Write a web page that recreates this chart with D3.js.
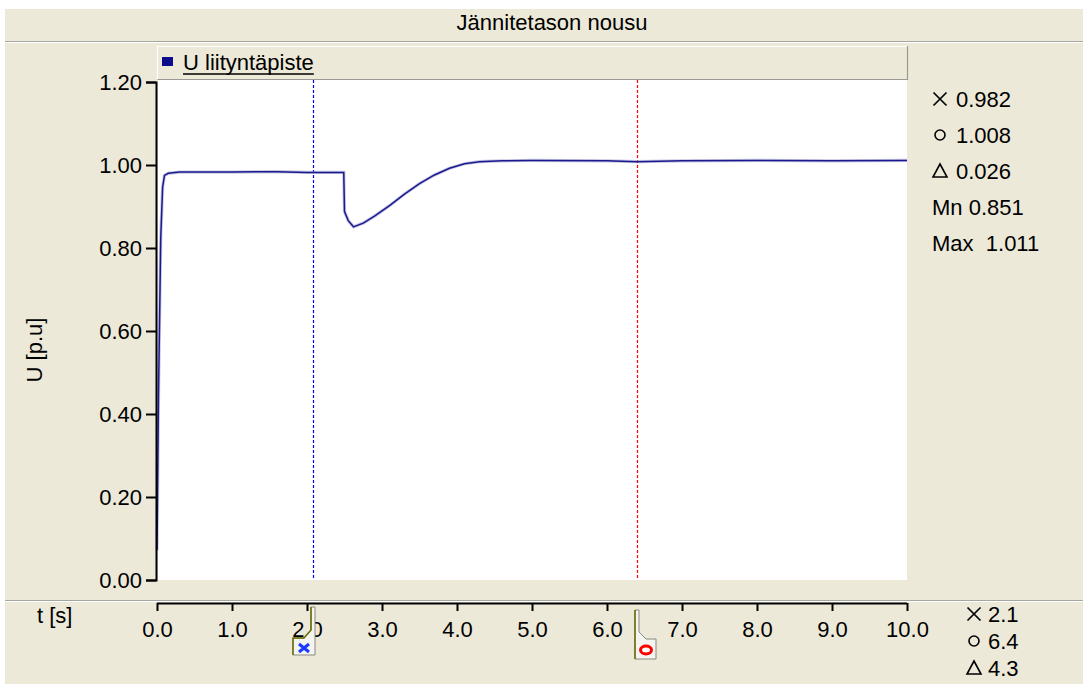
<!DOCTYPE html>
<html>
<head>
<meta charset="utf-8">
<script src="https://cdn.jsdelivr.net/npm/d3@7"></script>
<style>
  html, body { margin: 0; padding: 0; background: #ffffff; }
  svg { display: block; }
  text { font-family: "Liberation Sans", Arial, sans-serif; fill: #000; }
</style>
</head>
<body>
<svg id="chart" width="1083" height="684"></svg>
<script>
// ---------- data ----------
const chartTitle = "Jännitetason nousu";
const seriesName = "U liityntäpiste";
const yAxisTitle = "U [p.u]";
const xAxisTitle = "t [s]";

const timeS = [0.00, 0.02, 0.05, 0.075, 0.10, 0.15, 0.30, 1.00, 1.60, 2.00, 2.49, 2.50, 2.55, 2.62, 2.75, 2.90, 3.10, 3.30, 3.50, 3.70, 3.90, 4.10, 4.30, 4.60, 5.00, 6.00, 6.40, 7.00, 8.00, 9.00, 10.00];
const voltage = [0.072, 0.446, 0.826, 0.947, 0.975, 0.980, 0.983, 0.983, 0.984, 0.982, 0.982, 0.888, 0.866, 0.851, 0.860, 0.877, 0.902, 0.930, 0.955, 0.976, 0.992, 1.003, 1.008, 1.010, 1.011, 1.010, 1.008, 1.010, 1.011, 1.010, 1.011];

const xTicks = [0, 1, 2, 3, 4, 5, 6, 7, 8, 9, 10];
const yTicks = [0, 0.2, 0.4, 0.6, 0.8, 1.0, 1.2];

const cursorTimes = [2.08, 6.4];          // x cursor, o cursor
const cursorValues = [0.982, 1.008];
const statMin = 0.851;
const statMax = 1.011;

// ---------- layout ----------
const svg = d3.select("#chart");
const W = 1083, H = 684;
const bg = "#ECE9D8";
const FS = "22px";
const x = d3.scaleLinear().domain([0, 10]).range([157, 907]);
const y = d3.scaleLinear().domain([0, 1.2]).range([580, 82]);

// background
svg.append("rect").attr("x", 0).attr("y", 0).attr("width", W).attr("height", H).attr("fill", "#fff");
svg.append("rect").attr("x", 5).attr("y", 9).attr("width", W - 5).attr("height", H - 9).attr("fill", bg);

// separators
[[41, "#a6a6a0"], [42, "#ffffff"], [600, "#a6a6a0"], [601, "#ffffff"]].forEach(([yy, c]) => {
  svg.append("line").attr("x1", 5).attr("x2", W).attr("y1", yy + 0.5).attr("y2", yy + 0.5)
    .attr("stroke", c).attr("stroke-width", 1.2);
});

// title
svg.append("text").attr("x", 552).attr("y", 30).attr("text-anchor", "middle")
  .style("font-size", FS).text(chartTitle);

// plot area
svg.append("rect").attr("x", x(0) + 1).attr("y", 79).attr("width", x(10) - x(0) - 1).attr("height", 580 - 79)
  .attr("fill", "#ffffff");

// legend box
const lg = svg.append("g");
lg.append("rect").attr("x", 157).attr("y", 46).attr("width", 750).attr("height", 33).attr("fill", bg);
lg.append("path").attr("d", "M157.5,79 V46.5 H907").attr("fill", "none").attr("stroke", "#ffffff").attr("stroke-width", 1.2);
lg.append("path").attr("d", "M157.5,79.5 H907.5 V46").attr("fill", "none").attr("stroke", "#9a9a94").attr("stroke-width", 1.2);
lg.append("rect").attr("x", 162).attr("y", 57).attr("width", 11).attr("height", 9).attr("fill", "#0c0c8c");
const lt = lg.append("text").attr("x", 183).attr("y", 70).style("font-size", FS).text(seriesName);
const ltw = lt.node().getComputedTextLength();
lg.append("line").attr("x1", 183).attr("x2", 183 + ltw).attr("y1", 74).attr("y2", 74)
  .attr("stroke", "#000").attr("stroke-width", 1.5);

// cursor lines
const cursorColors = ["#0000ff", "#ff0000"];
cursorTimes.forEach((t, i) => {
  svg.append("line").attr("x1", Math.round(x(t)) + 0.5).attr("x2", Math.round(x(t)) + 0.5)
    .attr("y1", 80).attr("y2", 580)
    .attr("stroke", cursorColors[i]).attr("stroke-width", 1.2).attr("stroke-dasharray", "3,2");
});

// data line
const line = d3.line().x((d, i) => x(timeS[i])).y(d => y(d));
svg.append("path").datum(voltage).attr("d", line).attr("fill", "none")
  .attr("stroke", "#8c8cc8").attr("stroke-width", 3.2).attr("stroke-opacity", 0.5);
svg.append("path").datum(voltage).attr("d", line).attr("fill", "none")
  .attr("stroke", "#1a1a8e").attr("stroke-width", 1.5);

// y axis
const yAxis = d3.axisLeft(y).tickValues(yTicks).tickFormat(d3.format(".2f")).tickSize(10).tickPadding(4);
const ya = svg.append("g").attr("transform", "translate(156,0)").call(yAxis);
ya.select(".domain").attr("d", "M-10,82.5 H0.5 V580.5 H-10").attr("stroke", "#000").attr("stroke-width", 2);
ya.selectAll(".tick line").attr("stroke", "#000").attr("stroke-width", 2);
ya.selectAll(".tick text").style("font-size", FS).attr("font-family", "Liberation Sans, Arial, sans-serif")
  .attr("fill", "#000").attr("dy", "0.36em");

svg.append("text").attr("transform", "translate(42,350) rotate(-90)").attr("text-anchor", "middle")
  .style("font-size", FS).text(yAxisTitle);

// x axis
const xAxis = d3.axisBottom(x).tickValues(xTicks).tickFormat(d3.format(".1f")).tickSize(8).tickPadding(10);
const xa = svg.append("g").attr("transform", "translate(0,603)").call(xAxis);
xa.select(".domain").attr("d", "M157,0.5 H907").attr("stroke", "#000").attr("stroke-width", 2);
xa.selectAll(".tick line").attr("stroke", "#000").attr("stroke-width", 2);
xa.selectAll(".tick text").style("font-size", FS).attr("font-family", "Liberation Sans, Arial, sans-serif")
  .attr("fill", "#000");

svg.append("text").attr("x", 37).attr("y", 623).style("font-size", FS).text(xAxisTitle);

// cursor flags on x axis
function flag(t, dir, color, kind) {
  const cx = Math.round(x(t));
  const g = svg.append("g");
  let d;
  if (dir < 0) {
    d = `M${cx - 2},607 H${cx + 2} V655 H${cx - 20} V638 H${cx - 9} L${cx - 2},630 Z`;
  } else {
    d = `M${cx - 2},610 H${cx + 2} V632 L${cx + 9},639 H${cx + 19} V659 H${cx - 2} Z`;
  }
  g.append("path").attr("d", d).attr("fill", "#f4f4f0").attr("stroke", "#8a8a80").attr("stroke-width", 1);
  const hd = dir < 0
    ? `M${cx - 2},607 V630 L${cx - 9},638 H${cx - 20} V655`
    : `M${cx - 2},610 V659`;
  g.append("path").attr("d", hd).attr("fill", "none").attr("stroke", "#6b6b00").attr("stroke-width", 1.5);
  if (kind === "x") {
    const bx = cx - 9, by = 648;
    g.append("path").attr("d", `M${bx - 5},${by - 4} L${bx + 5},${by + 4} M${bx - 5},${by + 4} L${bx + 5},${by - 4}`)
      .attr("stroke", color).attr("stroke-width", 3);
  } else {
    g.append("ellipse").attr("cx", cx + 9).attr("cy", 650).attr("rx", 5.5).attr("ry", 4)
      .attr("fill", "#fff").attr("stroke", color).attr("stroke-width", 3);
  }
}
flag(cursorTimes[0], -1, "#1a3cff", "x");
flag(cursorTimes[1], 1, "#ff0000", "o");

// marker symbols
function sym(kind, sx, sy) {
  if (kind === "x") {
    svg.append("path").attr("d", `M${sx - 6.5},${sy - 6.5} L${sx + 6.5},${sy + 6.5} M${sx - 6.5},${sy + 6.5} L${sx + 6.5},${sy - 6.5}`)
      .attr("stroke", "#000").attr("stroke-width", 1.7).attr("fill", "none");
  } else if (kind === "o") {
    svg.append("circle").attr("cx", sx).attr("cy", sy).attr("r", 5)
      .attr("stroke", "#000").attr("stroke-width", 1.6).attr("fill", "none");
  } else {
    svg.append("path").attr("d", `M${sx},${sy - 7} L${sx + 7},${sy + 6} L${sx - 7},${sy + 6} Z`)
      .attr("stroke", "#000").attr("stroke-width", 1.6).attr("fill", "none");
  }
}

// right-hand readouts (values)
const fmt3 = d3.format(".3f");
const rv = [
  ["x", fmt3(cursorValues[0])],
  ["o", fmt3(cursorValues[1])],
  ["d", fmt3(cursorValues[1] - cursorValues[0])]
];
rv.forEach(([k, v], i) => {
  const by = 107 + i * 36;
  sym(k, 940, by - 8);
  svg.append("text").attr("x", 956).attr("y", by).style("font-size", FS).text(v);
});
svg.append("text").attr("x", 932).attr("y", 215).style("font-size", FS).text("Mn " + fmt3(statMin));
svg.append("text").attr("x", 932).attr("y", 251).style("font-size", FS).attr("xml:space", "preserve")
  .text("Max  " + fmt3(statMax));

// bottom-right readouts (times)
const fmt1 = d3.format(".1f");
const rt = [
  ["x", fmt1(cursorTimes[0])],
  ["o", fmt1(cursorTimes[1])],
  ["d", fmt1(cursorTimes[1] - cursorTimes[0])]
];
rt.forEach(([k, v], i) => {
  const by = 622 + i * 27;
  sym(k, 974, by - 8);
  svg.append("text").attr("x", 988).attr("y", by).style("font-size", FS).text(v);
});
</script>
</body>
</html>
